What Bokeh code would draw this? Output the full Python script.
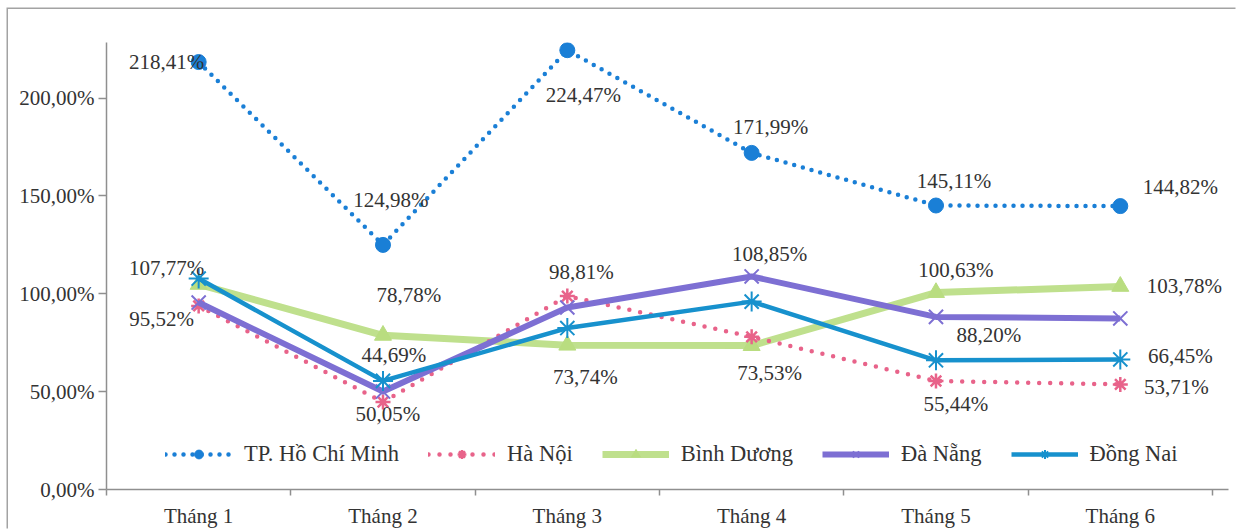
from bokeh.plotting import figure
from bokeh.models import Range1d, FixedTicker, Legend, LegendItem, Label
from bokeh.embed import file_html
from bokeh.resources import INLINE

# Monthly ratios (%) by locality
months = ["Tháng 1", "Tháng 2", "Tháng 3", "Tháng 4", "Tháng 5", "Tháng 6"]
hcm = [218.41, 124.98, 224.47, 171.99, 145.11, 144.82]
ha_noi = [93.8, 44.69, 98.81, 78.0, 55.44, 53.71]
binh_duong = [104.8, 78.78, 73.74, 73.53, 100.63, 103.78]
da_nang = [95.52, 50.05, 93.0, 108.85, 88.20, 87.4]
dong_nai = [107.77, 55.5, 82.5, 96.0, 66.0, 66.45]
y_ticks = [0, 50, 100, 150, 200]

FONT = "Liberation Serif"
TEXT_COLOR = "#333333"
AXIS_COLOR = "#8f8f8f"

x = list(range(1, len(months) + 1))

# a little room past the last category so the right-hand labels are not cut
p = figure(width=1229, height=521, output_backend="svg", toolbar_location=None,
           x_range=Range1d(0.5, len(months) + 0.587), y_range=Range1d(0, 228.4),
           min_border_left=98, min_border_right=9, min_border_top=33,
           min_border_bottom=39, background_fill_color="white",
           border_fill_color="white")
# thin frame line along the left and top of the chart area
p.styles = {"position": "absolute", "left": "8px", "top": "9px",
            "box-shadow": "-1.5px -1.5px 0 0 #a3a3a3"}
p.outline_line_color = None
p.xgrid.visible = False
p.ygrid.visible = False

# axes
xa = p.xaxis[0]
xa.ticker = FixedTicker(ticks=x, minor_ticks=[i + 0.5 for i in range(0, len(months) + 1)])
xa.major_label_overrides = {i: m for i, m in zip(x, months)}
xa.major_tick_out = 0
xa.major_tick_in = 0
xa.minor_tick_out = 6
xa.minor_tick_in = 0
xa.minor_tick_line_color = AXIS_COLOR
xa.minor_tick_line_width = 1.5
xa.axis_line_color = AXIS_COLOR
xa.axis_line_width = 1.5
xa.major_label_standoff = 8
xa.major_label_text_font = FONT
xa.major_label_text_font_size = "21px"
xa.major_label_text_color = TEXT_COLOR

ya = p.yaxis[0]
ya.ticker = FixedTicker(ticks=y_ticks, minor_ticks=[])
ya.major_label_overrides = {t: f"{t:.2f}%".replace(".", ",") for t in y_ticks}
ya.major_tick_out = 8
ya.major_tick_in = 0
ya.major_tick_line_color = AXIS_COLOR
ya.major_tick_line_width = 1.5
ya.minor_tick_out = 0
ya.minor_tick_in = 0
ya.axis_line_color = AXIS_COLOR
ya.axis_line_width = 1.5
ya.major_label_standoff = 4
ya.major_label_text_font = FONT
ya.major_label_text_font_size = "21px"
ya.major_label_text_color = TEXT_COLOR

# series
bd_line = p.line(x, binh_duong, line_color="#bfe08d", line_width=7, line_join="round")
bd_pts = p.scatter(x, binh_duong, marker="triangle", size=17, fill_color="#b9dd80",
                   line_color="#b9dd80")

hn_line = p.line(x, ha_noi, line_color="#e8638a", line_width=4.5, line_dash="0 11",
                 line_cap="round")
hn_pts = p.scatter(x, ha_noi, marker="asterisk", size=15, line_color="#e8638a",
                   line_width=2.5)

dn_line = p.line(x, da_nang, line_color="#7d6fd3", line_width=6, line_join="round")
dn_pts = p.scatter(x, da_nang, marker="x", size=20, line_color="#7d6fd3", line_width=2)

dgn_line = p.line(x, dong_nai, line_color="#1791cd", line_width=4.5, line_join="round")
dgn_pts = p.scatter(x, dong_nai, marker="asterisk", size=20, line_color="#1791cd",
                    line_width=2)

hcm_line = p.line(x, hcm, line_color="#1a7fd6", line_width=4.5, line_dash="0 9",
                  line_cap="round")
hcm_pts = p.scatter(x, hcm, marker="circle", size=15, fill_color="#1a7fd6",
                    line_color="#1a7fd6")

# value labels: (series, month index, x offset px, y offset px upward)
series = {"hcm": hcm, "hn": ha_noi, "bd": binh_duong, "dn": da_nang, "dgn": dong_nai}
label_spec = [
    ("hcm", 0, -32, 0), ("hcm", 1, 8, 45), ("hcm", 2, 16, -45),
    ("hcm", 3, 19, 26), ("hcm", 4, 18, 25), ("hcm", 5, 60, 19),
    ("dgn", 0, -32, 11), ("dn", 0, -37, -16),
    ("bd", 1, 26, 40), ("hn", 1, 11, 47), ("dn", 1, 5, -22),
    ("hn", 2, 14, 24), ("bd", 2, 18, -32),
    ("dn", 3, 18, 22), ("bd", 3, 18, -27),
    ("bd", 4, 20, 23), ("dn", 4, 53, -18), ("hn", 4, 20, -23),
    ("bd", 5, 64, 0), ("dgn", 5, 60, 3), ("hn", 5, 56, -3),
]
for key, i, dx, dy in label_spec:
    v = series[key][i]
    p.add_layout(Label(x=x[i], y=v, x_offset=dx, y_offset=dy,
                       text=f"{v:.2f}%".replace(".", ","), text_font=FONT,
                       text_font_size="21px", text_color=TEXT_COLOR,
                       text_align="center", text_baseline="middle"))

legend = Legend(items=[
    LegendItem(label="TP. Hồ Chí Minh", renderers=[hcm_line, hcm_pts]),
    LegendItem(label="Hà Nội", renderers=[hn_line, hn_pts]),
    LegendItem(label="Bình Dương", renderers=[bd_line, bd_pts]),
    LegendItem(label="Đà Nẵng", renderers=[dn_line, dn_pts]),
    LegendItem(label="Đồng Nai", renderers=[dgn_line, dgn_pts]),
], orientation="horizontal", location=(59, 22), glyph_width=67, glyph_height=22,
    label_standoff=12, spacing=29, padding=0, margin=0,
    border_line_alpha=0, background_fill_alpha=0,
    label_text_font=FONT, label_text_font_size="22.5px", label_text_color=TEXT_COLOR)
p.add_layout(legend)

open("out.html", "w").write(file_html(p, INLINE))
